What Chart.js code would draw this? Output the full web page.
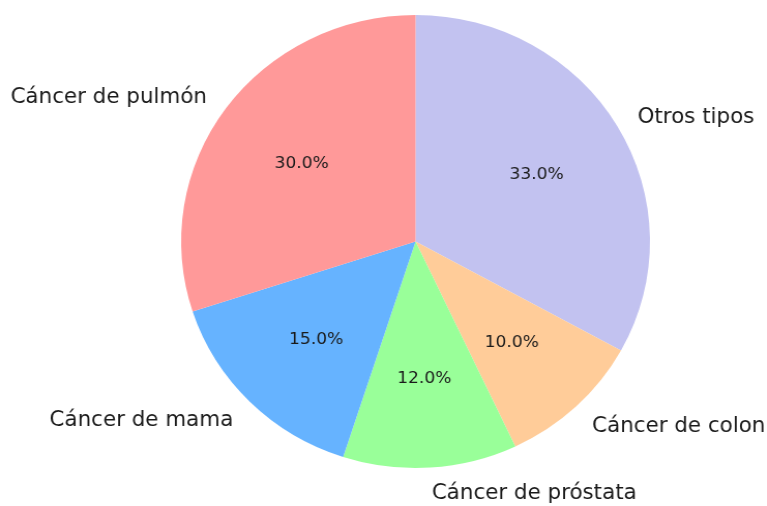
<!DOCTYPE html>
<html>
<head>
<meta charset="utf-8">
<script src="https://cdn.jsdelivr.net/npm/chart.js@4"></script>
<style>
  html, body { margin: 0; padding: 0; background: #ffffff; overflow: hidden; }
  #wrap { position: absolute; left: 0; top: 0; width: 741px; height: 506px; transform: scaleX(1.035); transform-origin: 0 0; }
</style>
</head>
<body>
<div id="wrap"><canvas id="c"></canvas></div>
<script>
// Data in matplotlib order (counter-clockwise from 12 o'clock)
const categories = ["Cáncer de pulmón", "Cáncer de mama", "Cáncer de próstata", "Cáncer de colon", "Otros tipos"];
const percentages = [30, 15, 12, 10, 33];
const sliceColors = ["#ff9999", "#66b3ff", "#99ff99", "#ffcc99", "#c2c2f0"];

// Chart.js draws clockwise, so reverse to keep the same visual layout
const labelsCW = categories.slice().reverse();
const valuesCW = percentages.slice().reverse();
const colorsCW = sliceColors.slice().reverse();

const pieLabels = {
  id: 'pieLabels',
  afterDatasetsDraw(chart) {
    const ctx = chart.ctx;
    const meta = chart.getDatasetMeta(0);
    const data = chart.data.datasets[0].data;
    const total = data.reduce((a, b) => a + b, 0);
    ctx.save();
    ctx.fillStyle = '#1a1a1a';
    meta.data.forEach((arc, i) => {
      const p = arc.getProps(['x', 'y', 'startAngle', 'endAngle', 'outerRadius'], true);
      const mid = (p.startAngle + p.endAngle) / 2;
      const c = Math.cos(mid), s = Math.sin(mid);
      // outer labels
      ctx.font = '20.7px "DejaVu Sans"';
      ctx.textBaseline = 'middle';
      ctx.textAlign = c >= 0 ? 'left' : 'right';
      ctx.fillText(chart.data.labels[i], p.x + 1.1 * p.outerRadius * c, p.y + 1.1 * p.outerRadius * s + 3);
      // percentages
      ctx.font = '16.5px "DejaVu Sans"';
      ctx.textAlign = 'center';
      const pct = (data[i] / total * 100).toFixed(1) + '%';
      ctx.fillText(pct, p.x + 0.6 * p.outerRadius * c, p.y + 0.6 * p.outerRadius * s + 2);
    });
    ctx.restore();
  }
};

new Chart(document.getElementById('c'), {
  type: 'pie',
  data: {
    labels: labelsCW,
    datasets: [{
      data: valuesCW,
      backgroundColor: colorsCW,
      borderWidth: 0
    }]
  },
  options: {
    responsive: true,
    maintainAspectRatio: false,
    animation: false,
    rotation: 0,
    layout: { padding: { left: 175, right: 113, top: 15, bottom: 38 } },
    plugins: { legend: { display: false }, tooltip: { enabled: false } }
  },
  plugins: [pieLabels]
});
</script>
</body>
</html>
